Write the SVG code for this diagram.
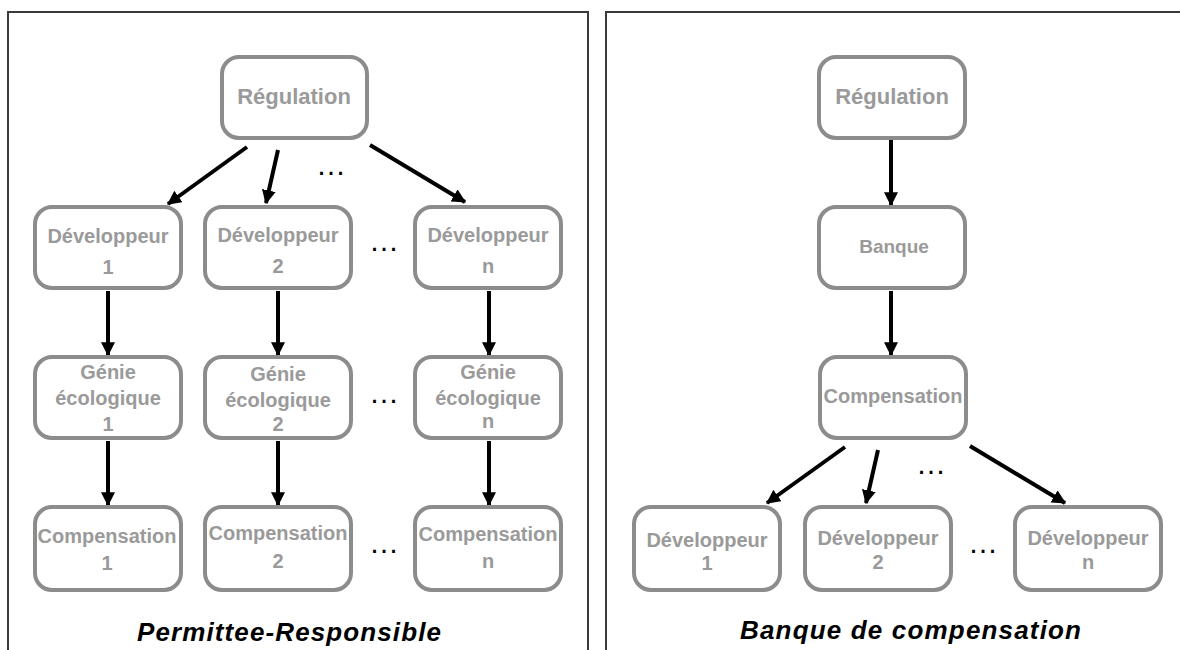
<svg xmlns="http://www.w3.org/2000/svg" width="1180" height="650" viewBox="0 0 1180 650">
<style>
.panel{fill:none;stroke:#3a3a3a;stroke-width:2}
.box{fill:#ffffff;stroke:#8c8c8c;stroke-width:4}
.t{font-family:"Liberation Sans",Arial,sans-serif;font-weight:bold;font-size:20px;fill:#9a9a9a;text-anchor:middle}
.reg{font-size:22px}
.ban{font-size:19px}
.dots{font-family:"Liberation Sans",Arial,sans-serif;font-size:30px;fill:#000;text-anchor:middle}
.title{font-family:"Liberation Sans",Arial,sans-serif;font-weight:bold;font-style:italic;font-size:26px;fill:#000}
.c{stroke:#000;stroke-width:4;fill:none;marker-end:url(#ah)}
</style>
<defs>
<marker id="ah" markerUnits="userSpaceOnUse" viewBox="0 0 12 12" refX="11" refY="6" markerWidth="14" markerHeight="14" orient="auto">
<path d="M0,0 L12,6 L0,12 z" fill="#000"/>
</marker>
</defs>
<rect width="1180" height="650" fill="#ffffff"/>
<g id="panels">
<rect class="panel" x="8" y="12" width="580" height="660"/>
<rect class="panel" x="606" y="12" width="600" height="660"/>
</g>
<g id="connectors">
<line class="c" x1="247" y1="147" x2="168" y2="204"/>
<line class="c" x1="278" y1="150" x2="266" y2="203"/>
<line class="c" x1="370" y1="145" x2="465" y2="202"/>
<line class="c" x1="108" y1="291" x2="108" y2="355"/>
<line class="c" x1="278" y1="291" x2="278" y2="355"/>
<line class="c" x1="489" y1="291" x2="489" y2="355"/>
<line class="c" x1="108" y1="441" x2="108" y2="505"/>
<line class="c" x1="278" y1="441" x2="278" y2="505"/>
<line class="c" x1="489" y1="441" x2="489" y2="505"/>
<line class="c" x1="891" y1="140" x2="891" y2="205"/>
<line class="c" x1="891" y1="291" x2="891" y2="355"/>
<line class="c" x1="845" y1="447" x2="767" y2="503"/>
<line class="c" x1="878" y1="450" x2="866" y2="503"/>
<line class="c" x1="970" y1="446" x2="1065" y2="503"/>
</g>
<g id="L_regulation"><rect class="box" x="222" y="57" width="145" height="81" rx="17"/><text class="t reg" x="294" y="104">Régulation</text></g>
<g id="L_dev1"><rect class="box" x="35" y="207" width="146" height="81" rx="17"/><text class="t" x="108" y="243">Développeur</text><text class="t" x="108" y="274">1</text></g>
<g id="L_dev2"><rect class="box" x="205" y="207" width="146" height="81" rx="17"/><text class="t" x="278" y="242">Développeur</text><text class="t" x="278" y="273">2</text></g>
<g id="L_devn"><rect class="box" x="415" y="207" width="146" height="81" rx="17"/><text class="t" x="488" y="242">Développeur</text><text class="t" x="488" y="273">n</text></g>
<g id="L_genie1"><rect class="box" x="35" y="357" width="146" height="81" rx="17"/><text class="t" x="108" y="379">Génie</text><text class="t" x="108" y="405">écologique</text><text class="t" x="108" y="431">1</text></g>
<g id="L_genie2"><rect class="box" x="205" y="357" width="146" height="81" rx="17"/><text class="t" x="278" y="381">Génie</text><text class="t" x="278" y="407">écologique</text><text class="t" x="278" y="431">2</text></g>
<g id="L_genien"><rect class="box" x="415" y="357" width="146" height="81" rx="17"/><text class="t" x="488" y="379">Génie</text><text class="t" x="488" y="405">écologique</text><text class="t" x="488" y="428">n</text></g>
<g id="L_comp1"><rect class="box" x="35" y="507" width="146" height="83" rx="17"/><text class="t" x="107" y="543">Compensation</text><text class="t" x="107" y="570">1</text></g>
<g id="L_comp2"><rect class="box" x="205" y="507" width="146" height="83" rx="17"/><text class="t" x="278" y="540">Compensation</text><text class="t" x="278" y="568">2</text></g>
<g id="L_compn"><rect class="box" x="415" y="507" width="146" height="83" rx="17"/><text class="t" x="488" y="541">Compensation</text><text class="t" x="488" y="568">n</text></g>
<g id="R_regulation"><rect class="box" x="819" y="57" width="146" height="81" rx="17"/><text class="t reg" x="892" y="104">Régulation</text></g>
<g id="R_banque"><rect class="box" x="819" y="207" width="146" height="81" rx="17"/><text class="t ban" x="894" y="253">Banque</text></g>
<g id="R_compensation"><rect class="box" x="820" y="357" width="146" height="81" rx="17"/><text class="t" x="893" y="403">Compensation</text></g>
<g id="R_dev1"><rect class="box" x="634" y="507" width="146" height="83" rx="17"/><text class="t" x="707" y="547">Développeur</text><text class="t" x="707" y="570">1</text></g>
<g id="R_dev2"><rect class="box" x="805" y="507" width="146" height="83" rx="17"/><text class="t" x="878" y="545">Développeur</text><text class="t" x="878" y="569">2</text></g>
<g id="R_devn"><rect class="box" x="1015" y="507" width="146" height="83" rx="17"/><text class="t" x="1088" y="545">Développeur</text><text class="t" x="1088" y="569">n</text></g>
<g id="ellipses">
<text class="dots" x="331" y="175">…</text>
<text class="dots" x="384" y="251">…</text>
<text class="dots" x="384" y="403">…</text>
<text class="dots" x="384" y="553">…</text>
<text class="dots" x="931" y="474">…</text>
<text class="dots" x="983" y="553">…</text>
</g>
<g id="titles">
<text class="title" x="137" y="641" textLength="304">Permittee-Responsible</text>
<text class="title" x="740" y="639" textLength="341">Banque de compensation</text>
</g>
</svg>
